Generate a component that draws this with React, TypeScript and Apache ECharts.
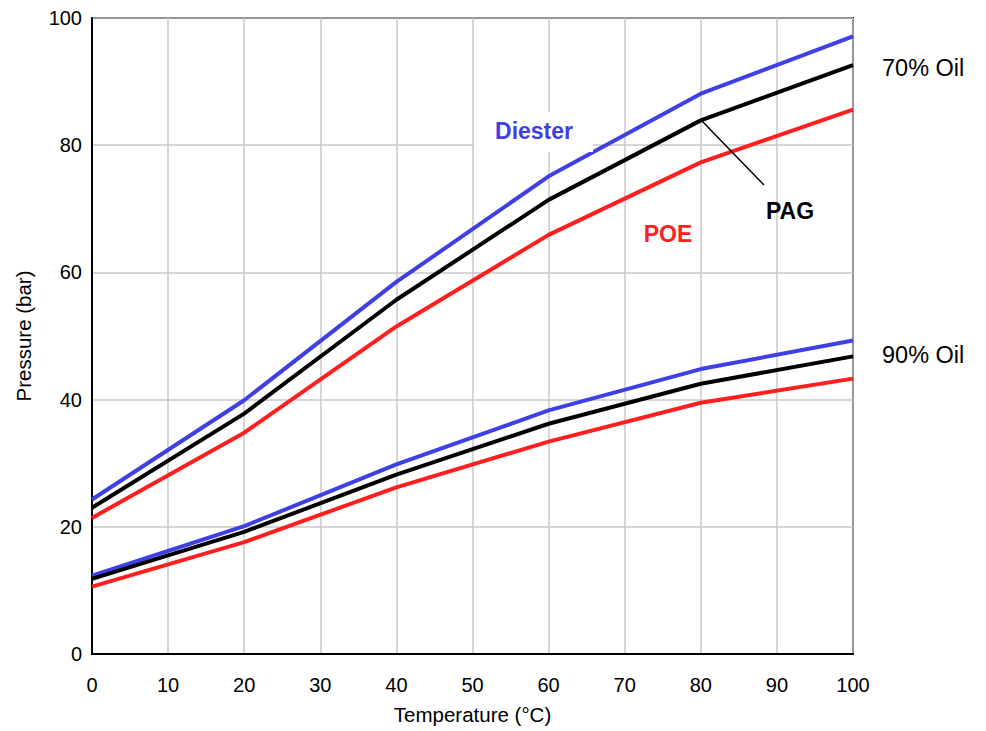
import React, { useEffect, useRef } from "react";
import * as echarts from "echarts";

const temps = [0, 20, 40, 60, 80, 100];
const diester70 = [24.3, 39.9, 58.5, 75.1, 88.1, 97.1];
const pag70 = [23.0, 37.8, 55.7, 71.4, 83.9, 92.6];
const poe70 = [21.4, 34.8, 51.5, 65.9, 77.3, 85.6];
const diester90 = [12.3, 20.1, 29.8, 38.3, 44.8, 49.3];
const pag90 = [11.8, 19.2, 28.2, 36.2, 42.5, 46.8];
const poe90 = [10.6, 17.6, 26.2, 33.4, 39.5, 43.3];

const BLUE = "#3F3FE6";
const RED = "#FF1F1F";
const BLACK = "#000000";
const FONT = "'Liberation Sans', Arial, sans-serif";

function mk(name: string, data: number[], color: string) {
  return {
    name,
    type: "line",
    data: temps.map((t, i) => [t, data[i]]),
    symbol: "none",
    lineStyle: { color, width: 4 },
    itemStyle: { color },
    z: color === BLACK ? 4 : 3,
  };
}

export default function App() {
  const ref = useRef<HTMLDivElement>(null);
  useEffect(() => {
    const chart = echarts.init(ref.current!, null, { renderer: "svg" });
    chart.setOption({
      animation: false,
      backgroundColor: "#fff",
      grid: { left: 92, right: 133, top: 18, bottom: 77, show: true, borderColor: "#000", borderWidth: 2 },
      xAxis: {
        type: "value",
        min: 0,
        max: 100,
        interval: 10,
        name: "Temperature (°C)",
        nameLocation: "middle",
        nameGap: 50,
        nameTextStyle: { fontFamily: FONT, fontSize: 20.5, color: "#000" },
        axisLine: { show: true, lineStyle: { color: "#000", width: 2 } },
        axisTick: { show: false },
        axisLabel: { fontFamily: FONT, fontSize: 20, color: "#000", margin: 21 },
        splitLine: { show: true, lineStyle: { color: "#c8c8c8", width: 1.5 } },
      },
      yAxis: {
        type: "value",
        min: 0,
        max: 100,
        interval: 20,
        name: "Pressure (bar)",
        nameLocation: "middle",
        nameGap: 58,
        nameTextStyle: { fontFamily: FONT, fontSize: 20.5, color: "#000" },
        axisLine: { show: true, lineStyle: { color: "#000", width: 2 } },
        axisTick: { show: false },
        axisLabel: { fontFamily: FONT, fontSize: 20, color: "#000", margin: 10 },
        splitLine: { show: true, lineStyle: { color: "#c8c8c8", width: 1.5 } },
      },
      series: [
        mk("Diester 70%", diester70, BLUE),
        mk("POE 70%", poe70, RED),
        mk("PAG 70%", pag70, BLACK),
        mk("Diester 90%", diester90, BLUE),
        mk("POE 90%", poe90, RED),
        mk("PAG 90%", pag90, BLACK),
      ],
      graphic: [
        {
          type: "rect",
          shape: { x: 474, y: 112, width: 119, height: 40 },
          style: { fill: "#fff" },
          z: 5,
        },
        {
          type: "text",
          x: 534,
          y: 131,
          style: { text: "Diester", fill: BLUE, font: "bold 23px " + FONT, textAlign: "center", textVerticalAlign: "middle" },
          z: 10,
        },
        {
          type: "text",
          x: 668,
          y: 234,
          style: { text: "POE", fill: RED, font: "bold 23px " + FONT, textAlign: "center", textVerticalAlign: "middle" },
          z: 10,
        },
        {
          type: "text",
          x: 790,
          y: 211,
          style: { text: "PAG", fill: BLACK, font: "bold 23px " + FONT, textAlign: "center", textVerticalAlign: "middle" },
          z: 10,
        },
        {
          type: "line",
          shape: { x1: 701, y1: 120, x2: 764, y2: 185 },
          style: { stroke: "#000", lineWidth: 1.5 },
          z: 10,
        },
        {
          type: "text",
          x: 882,
          y: 68,
          style: { text: "70% Oil", fill: "#000", font: "23.5px " + FONT, textAlign: "left", textVerticalAlign: "middle" },
          z: 10,
        },
        {
          type: "text",
          x: 882,
          y: 355,
          style: { text: "90% Oil", fill: "#000", font: "23.5px " + FONT, textAlign: "left", textVerticalAlign: "middle" },
          z: 10,
        },
      ],
    });
    return () => chart.dispose();
  }, []);
  return <div ref={ref} style={{ width: 986, height: 731, position: "absolute", left: 0, top: 0 }} />;
}
